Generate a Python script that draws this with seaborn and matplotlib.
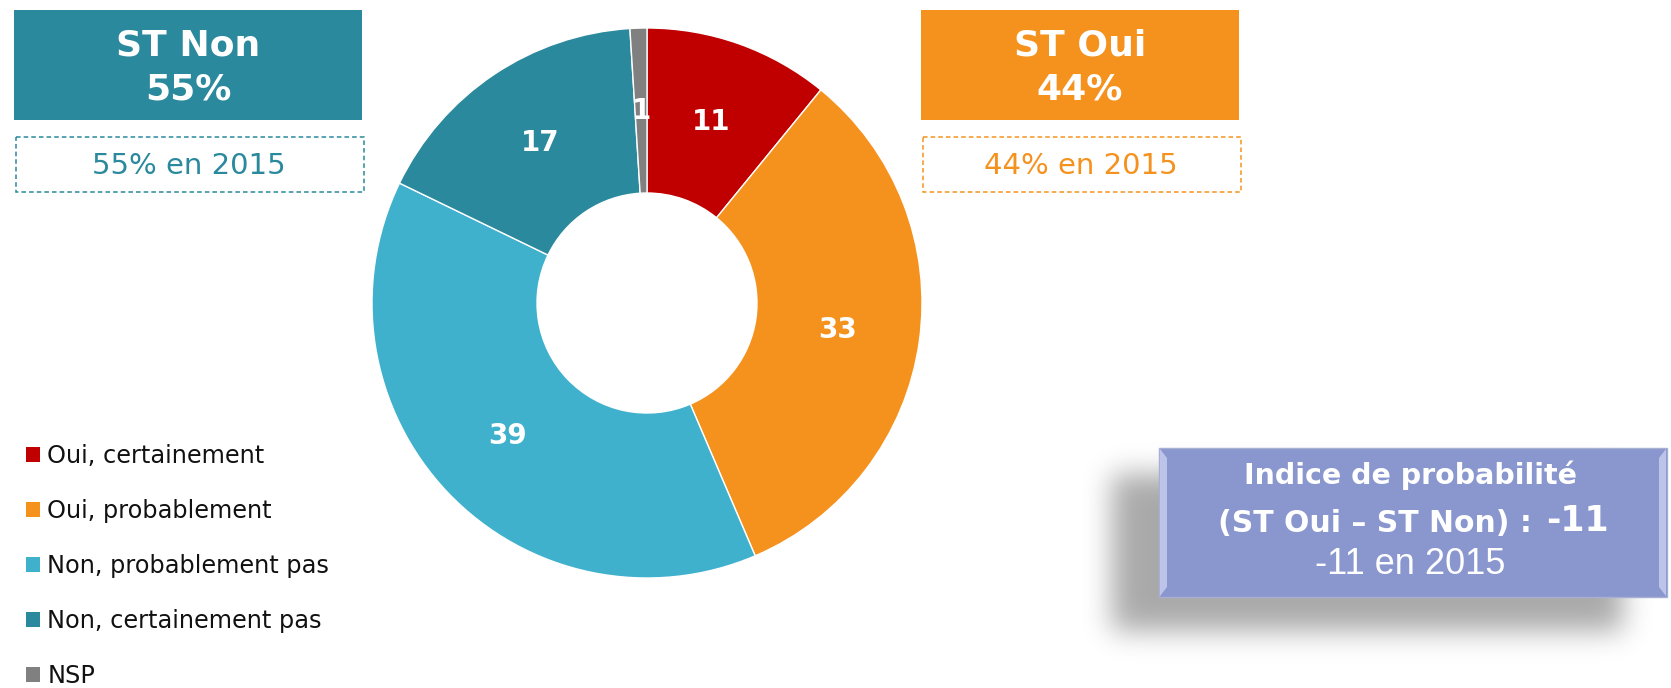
import numpy as np
import matplotlib
matplotlib.use("Agg")
import matplotlib.pyplot as plt
from matplotlib.patches import Rectangle, Patch, Polygon
import seaborn as sns

# ---- data ----
categories = ["Oui, certainement", "Oui, probablement", "Non, probablement pas",
              "Non, certainement pas", "NSP"]
values = [11, 33, 39, 17, 1]
hex_colors = ["#C00000", "#F5921E", "#40B1CD", "#2A899D", "#808080"]

st_non_label = "ST Non"
st_non_value = 55
st_non_prev = "55% en 2015"
st_oui_label = "ST Oui"
st_oui_value = 44
st_oui_prev = "44% en 2015"
index_title = "Indice de probabilité"
index_formula = "(ST Oui – ST Non) : "
index_value = -11
index_prev = "-11 en 2015"

sns.set_theme(style="white")
plt.rcParams["font.family"] = ["DejaVu Sans"]
palette = sns.color_palette(hex_colors)

W, H = 1671, 688
fig = plt.figure(figsize=(W / 100, H / 100), dpi=100)
fig.patch.set_facecolor("white")

# overlay axes in pixel coordinates (origin top-left)
ov = fig.add_axes([0, 0, 1, 1])
ov.set_xlim(0, W)
ov.set_ylim(H, 0)
ov.axis("off")

# ---- donut ----
cx, cy, R = 647, 303, 275
ax = fig.add_axes([(cx - R) / W, (H - cy - R) / H, 2 * R / W, 2 * R / H])
wedges, _ = ax.pie(values, colors=palette, startangle=90, counterclock=False,
                   radius=1.0,
                   wedgeprops=dict(width=0.6, edgecolor="white", linewidth=1.0))
ax.set_xlim(-1, 1)
ax.set_ylim(-1, 1)
ax.axis("off")
for w, v in zip(wedges, values):
    ang = np.deg2rad((w.theta1 + w.theta2) / 2)
    ax.text(0.7 * np.cos(ang), 0.7 * np.sin(ang), f"{v}", ha="center", va="center",
            color="white", fontsize=20, fontweight="bold")

# ---- summary boxes ----
teal = hex_colors[3]
orange = hex_colors[1]


def summary_box(x0, x1, color, label, value, prev):
    ov.add_patch(Rectangle((x0, 10), x1 - x0, 110, facecolor=color, edgecolor="none"))
    xc = (x0 + x1) / 2
    ov.text(xc, 45, label, ha="center", va="center", color="white",
            fontsize=26, fontweight="bold")
    ov.text(xc, 89, f"{value}%", ha="center", va="center", color="white",
            fontsize=26, fontweight="bold")
    ov.add_patch(Rectangle((x0 + 2, 137), x1 - x0, 55, facecolor="white",
                           edgecolor=color, linewidth=1.1, linestyle=(0, (3, 2))))
    ov.text(xc + 1, 166, prev, ha="center", va="center", color=color, fontsize=21)


summary_box(14, 362, teal, st_non_label, st_non_value, st_non_prev)
summary_box(921, 1239, orange, st_oui_label, st_oui_value, st_oui_prev)

# ---- index box with soft shadow ----
sx0, sx1, sy0, sy1 = 1060, 1671, 420, 688
gx = np.arange(sx0, sx1)
gy = np.arange(sy0, sy1)
mask = ((gx[None, :] >= 1112) & (gx[None, :] <= 1622) &
        (gy[:, None] >= 474) & (gy[:, None] <= 630)).astype(float)
k = np.arange(-45, 46)
kern = np.exp(-0.5 * (k / 14.0) ** 2)
kern /= kern.sum()
blur = np.apply_along_axis(lambda r: np.convolve(r, kern, mode="same"), 1, mask)
blur = np.apply_along_axis(lambda c: np.convolve(c, kern, mode="same"), 0, blur)
shadow = np.zeros((len(gy), len(gx), 4))
shadow[..., 3] = 0.34 * blur
ov.imshow(shadow, extent=(sx0, sx1, sy1, sy0), interpolation="bilinear", zorder=1)
ov.set_xlim(0, W)
ov.set_ylim(H, 0)

bx0, bx1, by0, by1 = 1159, 1667, 448, 597
ov.add_patch(Rectangle((bx0, by0), bx1 - bx0, by1 - by0, facecolor="#8A97CE",
                       edgecolor="#A7AFD3", linewidth=1.0, zorder=2))
# bevel strips on the left and right edges
ov.add_patch(Polygon([(bx0 + 1, by0 + 1), (bx0 + 8, by0 + 10), (bx0 + 8, by1 - 10),
                      (bx0 + 1, by1 - 1)], closed=True, facecolor="#C9D0F2",
                     edgecolor="none", alpha=0.8, zorder=3))
ov.add_patch(Polygon([(bx1 - 1, by0 + 1), (bx1 - 8, by0 + 10), (bx1 - 8, by1 - 10),
                      (bx1 - 1, by1 - 1)], closed=True, facecolor="#C9D0F2",
                     edgecolor="none", alpha=0.8, zorder=3))

ov.text(1411, 475, index_title, ha="center", va="center", color="white",
        fontsize=20.5, fontweight="bold", zorder=4)
ov.text(1542, 523, index_formula, ha="right", va="center", color="white",
        fontsize=21.5, fontweight="bold", zorder=4)
ov.text(1546, 521, f"{index_value}", ha="left", va="center", color="white",
        fontsize=25, fontweight="bold", zorder=4)
ov.text(1410, 564, index_prev, ha="center", va="center", color="white",
        fontsize=26, family=["Liberation Sans", "DejaVu Sans"], zorder=4)

# ---- legend ----
handles = [Patch(facecolor=c, edgecolor="none") for c in palette]
fig.legend(handles, categories, loc="upper left",
           bbox_to_anchor=(26 / W, 1 - 444 / H), frameon=False,
           fontsize=17.3, handlelength=0.6, handleheight=0.6,
           handletextpad=0.28, labelspacing=1.29, borderpad=0, borderaxespad=0,
           labelcolor="#111111")

fig.savefig("out.png", dpi=100, facecolor="white")
